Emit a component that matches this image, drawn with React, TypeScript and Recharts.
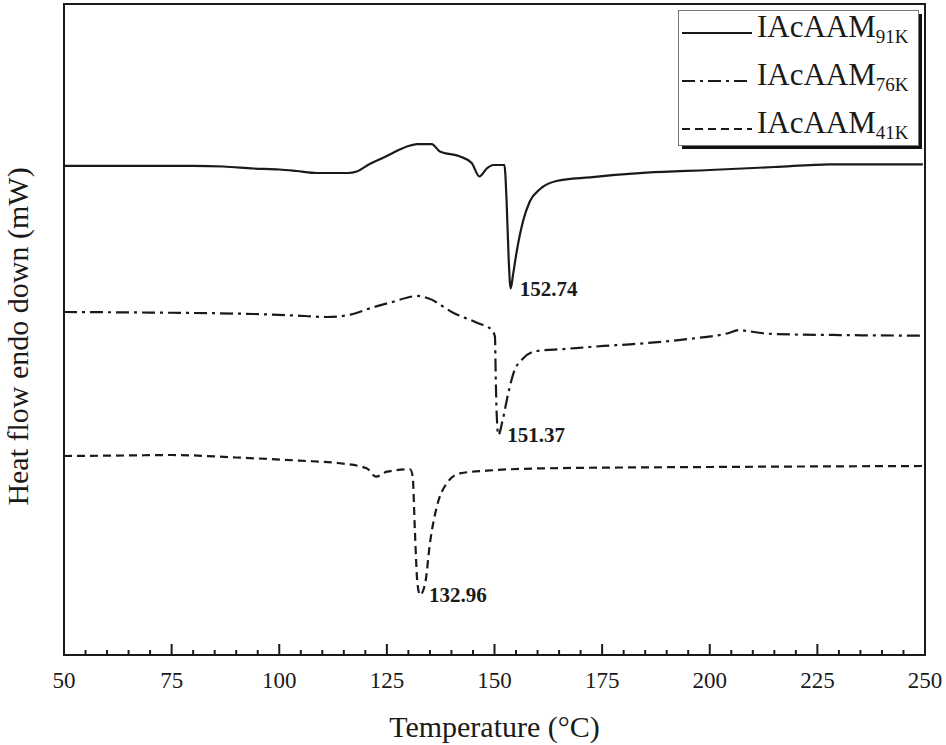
import React from 'react';
import { LineChart, Line, XAxis, YAxis, ReferenceArea, ReferenceDot, Legend, Label } from 'recharts';

type Pt = { t: number; v: number };

// temperatures (°C) and heat flow (arb. units, endo down)
const temps91K = [50, 60, 70, 80, 87, 94, 100, 104, 108.7, 116, 118, 121, 124.5, 128, 130, 132, 135.4, 137.3, 142, 144.7, 146.5, 148.2, 149.7, 152.3, 152.8, 153.3, 153.75, 154.3, 155.1, 156.7, 158.2, 160.6, 164.4, 172.2, 185.3, 200, 215, 228, 240, 249.5];
const flow91K = [75.12, 75.12, 75.12, 75.12, 75.04, 74.73, 74.58, 74.35, 74.04, 74.04, 74.27, 75.42, 76.5, 77.65, 78.19, 78.49, 78.49, 77.34, 76.57, 75.58, 73.5, 74.73, 75.27, 75.27, 69.89, 60.68, 56.3, 58.37, 61.75, 66.82, 69.66, 71.58, 72.81, 73.38, 74.09, 74.5, 74.96, 75.38, 75.38, 75.38];

const temps76K = [50, 70, 94, 106, 111, 116.6, 121.1, 125.7, 132.3, 134.6, 140.4, 145.9, 149.4, 150.1, 150.3, 150.5, 150.9, 151.9, 153.2, 154.4, 156.7, 159.8, 166, 175.3, 181.5, 195, 204, 207, 208.6, 214.7, 230, 249];
const flow76K = [52.69, 52.6, 52.38, 52.07, 51.92, 52.29, 53.26, 54.12, 55.15, 54.79, 52.58, 51.04, 49.92, 48.89, 42.24, 37.13, 33.79, 36.1, 40.2, 43.27, 45.58, 46.7, 47.0, 47.47, 47.73, 48.54, 49.39, 49.92, 49.77, 49.31, 49.15, 49.05];

const temps41K = [50, 65, 75, 90, 104.8, 114.1, 120.3, 122.5, 125, 130.4, 131, 131.5, 132.1, 132.7, 133.9, 135, 136.6, 138.9, 142, 148.2, 162.1, 200, 249.5];
const flow41K = [30.57, 30.65, 30.72, 30.34, 29.85, 29.45, 28.68, 27.39, 28.16, 28.53, 27.39, 19.2, 11.01, 9.22, 11.01, 17.16, 22.78, 26.37, 27.91, 28.31, 28.68, 28.88, 29.03];

// peak temperatures printed next to each endotherm
const peakLabels = ['152.74', '151.37', '132.96'];

const majorTicks = [50, 75, 100, 125, 150, 175, 200, 225, 250];
const allTicks = [50, 55, 60, 65, 70, 75, 80, 85, 90, 95, 100, 105, 110, 115, 120, 125, 130, 135, 140, 145, 150, 155, 160, 165, 170, 175, 180, 185, 190, 195, 200, 205, 210, 215, 220, 225, 230, 235, 240, 245, 250];

const zip = (ts: number[], vs: number[]): Pt[] => ts.map((t, i) => ({ t, v: vs[i] }));

const series = [
  { key: 's91', sub: '91K', dash: undefined as string | undefined, data: zip(temps91K, flow91K) },
  { key: 's76', sub: '76K', dash: '13 5 3 5', data: zip(temps76K, flow76K) },
  { key: 's41', sub: '41K', dash: '8 5', data: zip(temps41K, flow41K) },
];

const lowest = (pts: Pt[]) => pts.reduce((m, p) => (p.v < m.v ? p : m), pts[0]);

const FONT = '"Liberation Serif", "Times New Roman", serif';
const INK = '#1a1a1a';

const TempTick = (props: any) => {
  const { x, y, payload } = props;
  const major = majorTicks.includes(payload.value);
  return (
    <g>
      <line x1={x} x2={x} y1={y} y2={y - (major ? 11 : 5)} stroke={INK} strokeWidth={2} />
      {major && (
        <text x={x} y={y + 33} textAnchor="middle" fontSize={23} fontFamily={FONT} fill={INK}>
          {payload.value}
        </text>
      )}
    </g>
  );
};

const YTitle = (props: any) => {
  const vb = props.viewBox;
  const x = vb.x - 35;
  const y = vb.y + vb.height / 2 + 7;
  return (
    <text x={x} y={y} transform={`rotate(-90, ${x}, ${y})`} textAnchor="middle" fontSize={30} fontFamily={FONT} fill={INK}>
      Heat flow endo down (mW)
    </text>
  );
};

const LegendBox = () => (
  <svg width={256} height={156} style={{ display: 'block', overflow: 'visible' }}>
    <rect x={4} y={4} width={240} height={135} fill="#111" />
    <rect x={0.5} y={0.5} width={240} height={135} fill="#fff" stroke="#777" strokeWidth={1} />
    {series.map((s, i) => (
      <g key={s.key}>
        <line x1={4} x2={74} y1={23 + i * 48} y2={23 + i * 48} stroke={INK} strokeWidth={2.2} strokeDasharray={s.dash} />
        <text x={79} y={27 + i * 48} fontSize={31} fontFamily={FONT} fill={INK}>
          IAcAAM
          <tspan fontSize={19} dy={6}>{s.sub}</tspan>
        </text>
      </g>
    ))}
  </svg>
);

export default function App() {
  return (
    <div style={{ position: 'absolute', left: 0, top: 0, background: '#fff', fontFamily: FONT }}>
      <LineChart width={946} height={745} margin={{ top: 4, right: 21, left: 63, bottom: 0 }}>
        <XAxis
          type="number"
          dataKey="t"
          domain={[50, 250]}
          ticks={allTicks}
          interval={0}
          height={90}
          tick={<TempTick />}
          tickLine={false}
          tickSize={0}
          tickMargin={0}
          axisLine={false}
        >
          <Label value="Temperature (°C)" position="insideBottom" offset={8} fontSize={30} fontFamily={FONT} fill={INK} />
        </XAxis>
        <YAxis type="number" dataKey="v" domain={[0, 100]} width={1} tick={false} tickLine={false} axisLine={false}>
          <Label content={<YTitle />} />
        </YAxis>
        <ReferenceArea x1={50} x2={250} y1={0} y2={100} fill="none" fillOpacity={0} stroke={INK} strokeWidth={2} />
        {series.map((s) => (
          <Line
            key={s.key}
            data={s.data}
            dataKey="v"
            type="monotone"
            stroke={INK}
            strokeWidth={2.2}
            strokeDasharray={s.dash}
            dot={false}
            isAnimationActive={false}
          />
        ))}
        {series.map((s, i) => {
          const p = lowest(s.data);
          return (
            <ReferenceDot key={s.key + 'pk'} x={p.t} y={p.v} r={1} fill="none" stroke="none">
              <Label value={peakLabels[i]} position="right" offset={8} fontSize={21} fontWeight="bold" fontFamily={FONT} fill={INK} />
            </ReferenceDot>
          );
        })}
        <Legend
          layout="vertical"
          align="center"
          verticalAlign="middle"
          content={<LegendBox />}
          wrapperStyle={{ left: 678, top: 10, width: 256, height: 156, margin: 0 }}
        />
      </LineChart>
    </div>
  );
}
